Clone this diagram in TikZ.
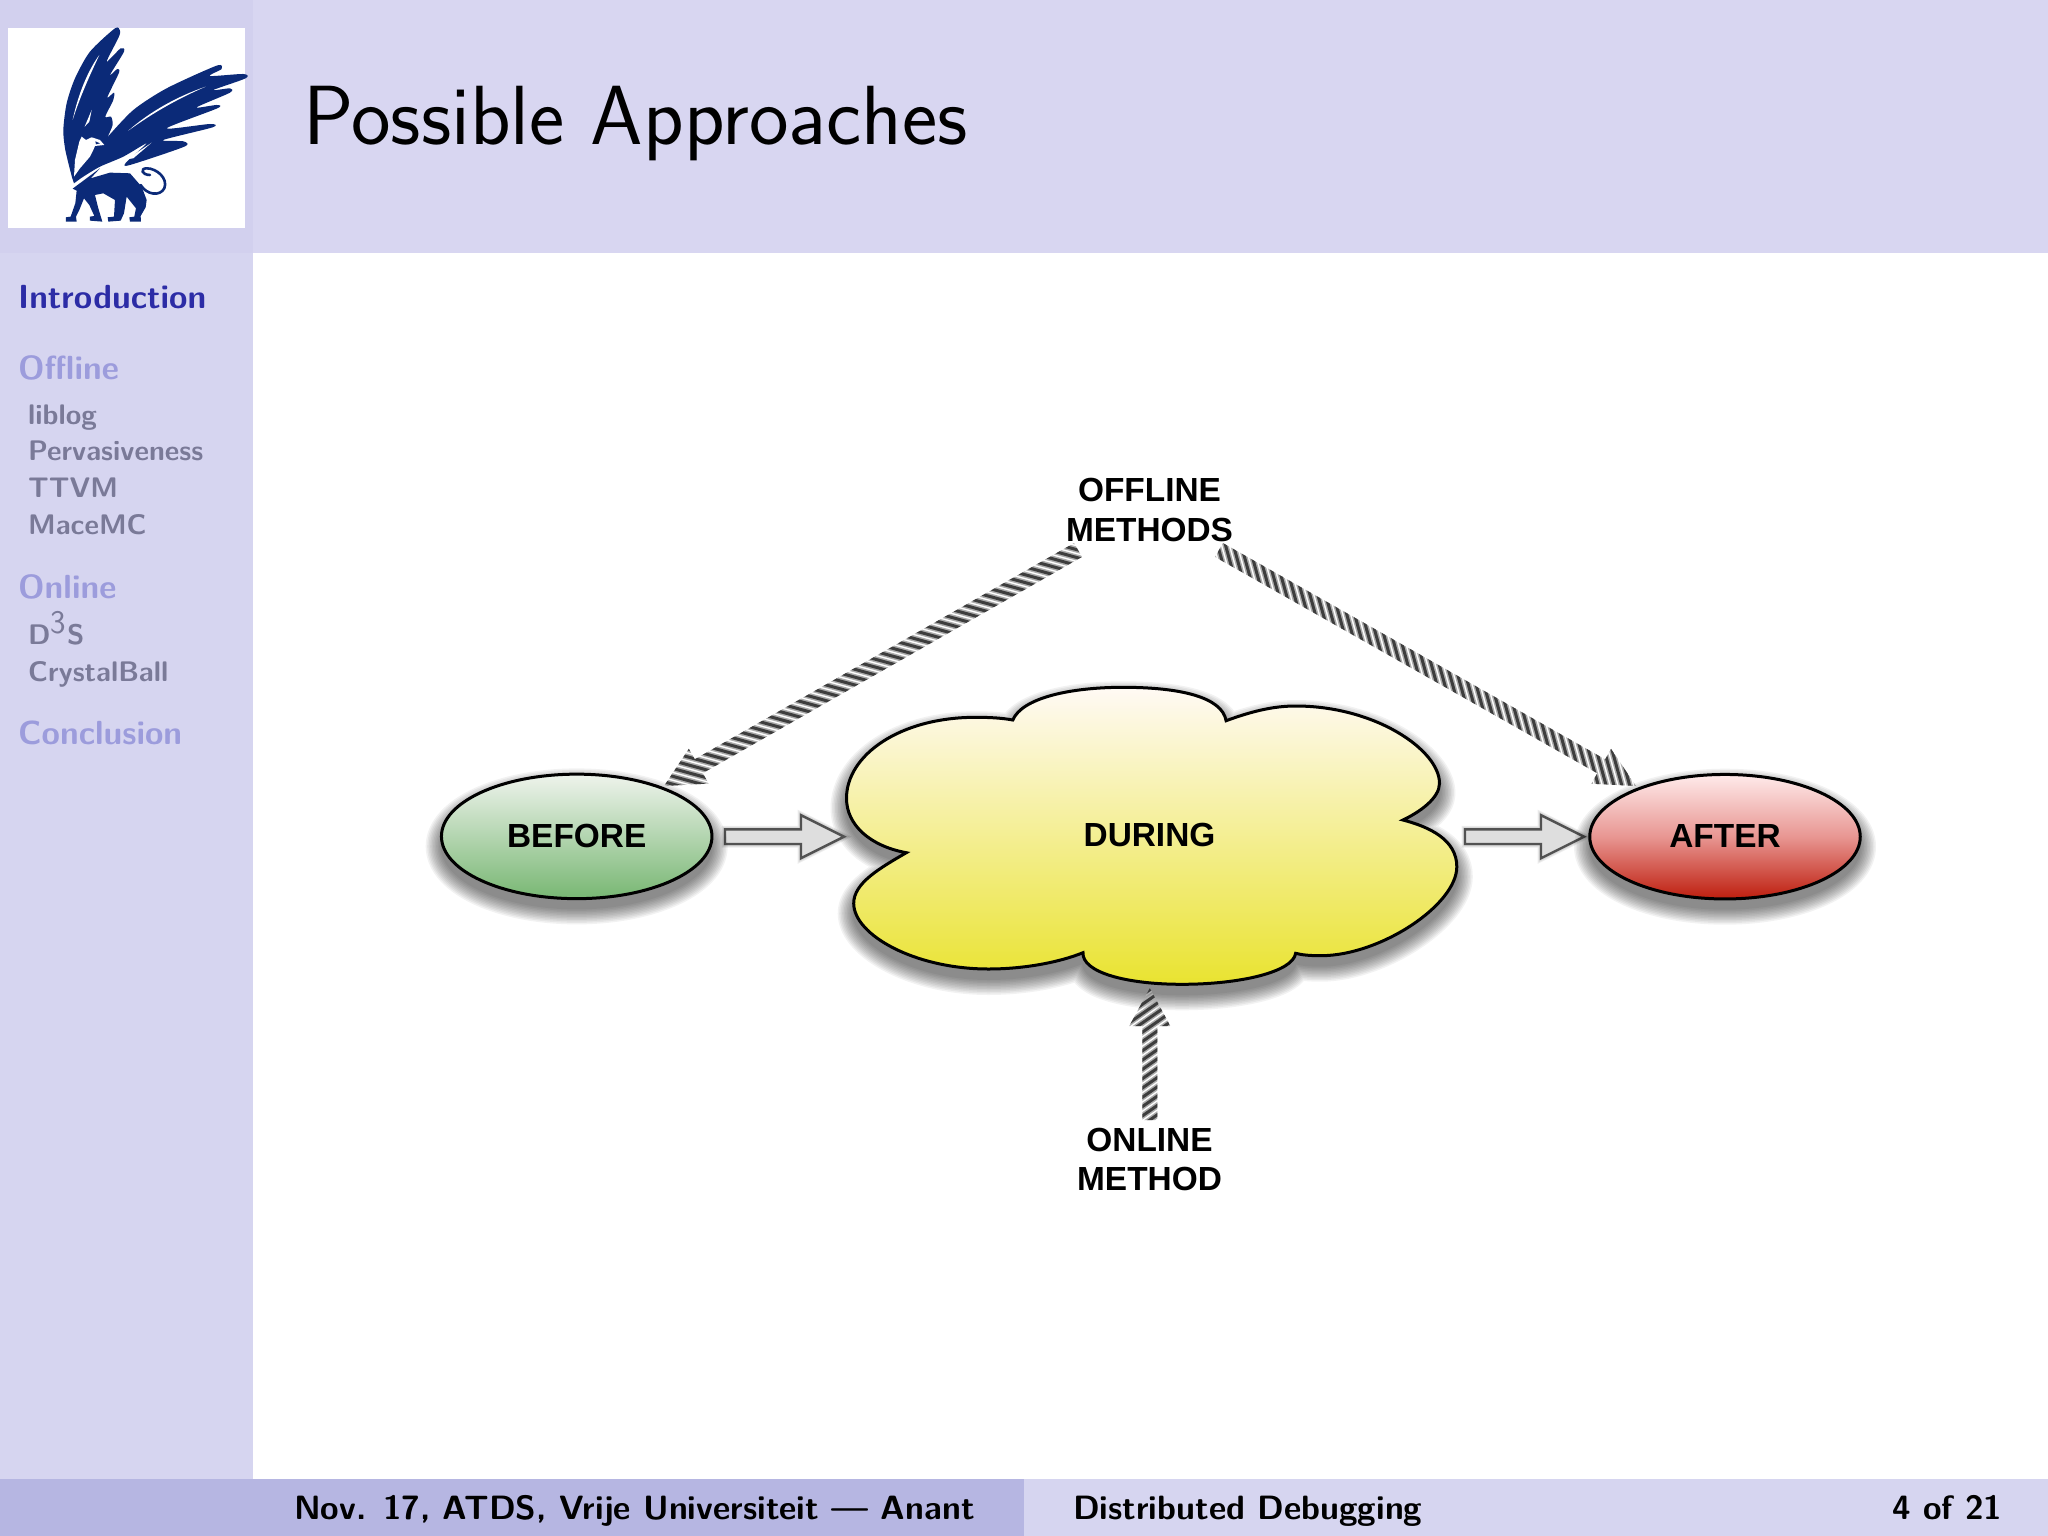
\documentclass[tikz,border=0pt]{standalone}
\usepackage{fontspec}
\newfontfamily\labfont{Liberation Sans}
\usetikzlibrary{calc,shapes.geometric}
\definecolor{panel}{HTML}{D8D6F1}
\definecolor{logobg}{HTML}{D2D0EE}
\definecolor{footdark}{HTML}{B6B6E2}
\definecolor{footlight}{HTML}{D6D5F0}
\definecolor{griffin}{HTML}{0B2A78}
\definecolor{secactive}{HTML}{2C2CA6}
\definecolor{secdim}{HTML}{9C9CDC}
\definecolor{subdim}{HTML}{7A7A98}
\newcommand{\fs}[1]{\fontsize{#1}{#1}\selectfont}
\tikzset{
  sect/.style={anchor=base west,inner sep=0,font=\sffamily\bfseries\fs{33.4},text=secdim},
  subsect/.style={anchor=base west,inner sep=0,font=\sffamily\bfseries\fs{28.3},text=subdim},
  foot/.style={anchor=base west,inner sep=0,font=\sffamily\bfseries\fs{33.7},text=black},
  lab/.style={font=\labfont\bfseries\fs{33.4},inner sep=0,align=center,text=black},
  phase/.style={ellipse,draw=black,line width=3pt,inner sep=0,minimum width=270.5pt,minimum height=124.5pt,font=\labfont\bfseries\fs{33.4},text=black},
}
\newcommand{\softshadow}[3]{% path, dx, dy
  \foreach \w in {32,29,...,2}{
    \begin{scope}[transparency group,opacity=.05]
      \path[xshift=#2pt,yshift=#3pt,draw=black,fill=black,line width=\w pt,line join=round] #1;
    \end{scope}
  }}
% from, to, shaft half width, head half width, head length, stripe angle, axial period
\newcommand{\stripedarrow}[7]{%
  \begin{scope}
    \coordinate (hb) at ($(#2)!#5!(#1)$);
    \clip ($(#1)!#3!90:(#2)$) -- ($(hb)!#3!90:(#2)$) -- ($(hb)!#4!90:(#2)$) -- (#2)
       -- ($(hb)!#4!-90:(#2)$) -- ($(hb)!#3!-90:(#2)$) -- ($(#1)!#3!-90:(#2)$) -- cycle;
    \foreach \i in {-4,...,50}{
      \pgfmathsetmacro\t{\i*#7}
      \coordinate (P) at ($(#1)!\t pt!(#2)$);
      \draw[line width=6pt,black!32] ($(P)!70pt!#6:(#2)$) -- ($(P)!-70pt!#6:(#2)$);
      \draw[line width=3pt,black!76] ($(P)!70pt!#6:(#2)$) -- ($(P)!-70pt!#6:(#2)$);
    }
  \end{scope}}
\newcommand{\hollowarrow}[2]{%
  \coordinate (hb) at ($(#2)!43pt!(#1)$);
  \def\hpath{($(#1)!7.3pt!90:(#2)$) -- ($(hb)!7.3pt!90:(#2)$) -- ($(hb)!21.5pt!90:(#2)$) -- (#2)
     -- ($(hb)!21.5pt!-90:(#2)$) -- ($(hb)!7.3pt!-90:(#2)$) -- ($(#1)!7.3pt!-90:(#2)$) -- cycle}
  \foreach \w in {7,5,3}{\path[xshift=1pt,yshift=-3pt,draw=black,line width=\w pt,opacity=.07,line join=miter] \hpath;}
  \draw[line width=2.4pt,draw=black!68,fill=black!13,line join=miter] \hpath;}
\def\cloudpath{(1012.8,720) .. controls (1022,698) and (1070,687.3) .. (1123,687.3)
  .. controls (1180,687.3) and (1222,697) .. (1226.1,720.7)
  .. controls (1250,712) and (1272,706) .. (1295.6,706)
  .. controls (1375,706) and (1439.5,750) .. (1439.5,783.3)
  .. controls (1439.5,798) and (1420,812) .. (1402.9,820)
  .. controls (1430,827) and (1456.8,840) .. (1456.8,866.7)
  .. controls (1456.8,905) and (1380,955.7) .. (1320.8,955.7)
  .. controls (1310,955.7) and (1302,955) .. (1295.6,953.3)
  .. controls (1293,972) and (1240,984.3) .. (1182,984.3)
  .. controls (1125,984.3) and (1082,972) .. (1083,952.7)
  .. controls (1060,962) and (1025,969) .. (988.4,969)
  .. controls (915,969) and (853.7,935) .. (853.7,903.3)
  .. controls (853.7,883) and (880,868) .. (906.3,852.7)
  .. controls (870,846) and (846.5,825) .. (846.5,798.3)
  .. controls (846.5,755) and (900,717.3) .. (975.7,717.3)
  .. controls (990,717.3) and (1002,718) .. (1012.8,720) -- cycle}
\begin{document}
\begin{tikzpicture}[x=1pt,y=-1pt]
\useasboundingbox (0,0) rectangle (2048,1536);
% slide frame
\fill[white] (0,0) rectangle (2048,1536);
\fill[panel] (0,0) rectangle (2048,253);
\fill[footlight] (0,253) rectangle (253,1479);
\fill[logobg] (0,0) rectangle (253,253);
\fill[footdark] (0,1479) rectangle (1024,1536);
\fill[footlight] (1024,1479) rectangle (2048,1536);
% logo
\fill[white] (8,28) rectangle (245,228);
\begin{scope}[x=.3333pt,y=-.3333pt]
  \fill[griffin] plot[smooth,tension=.45] coordinates {(216,532) (196,450) (190,390) (200,310) (225,235) (270,155) (345,85) (360,92) (356,112) (320,185) (362,145) (372,155) (330,225) (352,207) (357,218) (322,292) (342,278) (340,300) (316,350) (333,350) (338,375) (322,412)}
   -- plot[smooth,tension=.45] coordinates {(322,412) (400,330) (500,265) (650,197) (665,207) (630,228) (730,222) (737,235) (640,270) (690,265) (690,278) (590,322) (650,315) (652,325) (500,385) (630,372) (638,382) (490,420) (550,424) (553,440) (390,495) (378,488) (440,430) (370,470) (300,500) (250,530) (222,550)} -- cycle;
  \fill[griffin] (218,566) -- (300,505) -- (272,535) -- (330,518) -- (390,520) -- (425,560) -- (440,600) -- (437,622) -- (422,648) -- (423,665) -- (390,665) -- (388,652) -- (403,650) -- (408,625) -- (380,590) -- (372,640) -- (362,662) -- (325,665) -- (323,652) -- (342,650) -- (345,600) -- (310,580) -- (285,585) -- (295,625) -- (307,665) -- (270,662) -- (270,650) -- (283,648) -- (268,615) -- (252,595) -- (238,630) -- (228,650) -- (230,665) -- (198,665) -- (198,652) -- (212,650) -- (226,610) -- (230,572) -- cycle;
  \draw[griffin,line width=2.6pt,line cap=round] (422,555) .. controls (440,585) and (480,590) .. (493,565) .. controls (505,535) and (470,505) .. (440,505) .. controls (420,505) and (425,525) .. (450,525);
  % white details
  \fill[white] (218,360) .. controls (235,280) and (265,210) .. (298,165) .. controls (270,225) and (240,290) .. cycle;
  \fill[white] (254,380) -- (275,330) -- (268,365) -- cycle;
  \fill[white] (385,392) .. controls (450,335) and (530,290) .. (617,260) .. controls (530,298) and (460,338) .. cycle;
  \fill[white] (380,478) -- (455,428) -- (400,475) -- cycle;
  \fill[white] (238,425) -- (245,410) -- (258,420) -- (275,412) -- (300,420) -- (313,435) -- (285,438) -- (280,450) -- (270,470) -- (240,505) -- (222,530) -- (225,480) -- cycle;
  \fill[griffin] (286,424) -- (300,430) -- (288,433) -- cycle;
\end{scope}
% title and navigation
\node[anchor=base west,inner sep=0,font=\sffamily\fs{84},text=black] (title) at (303,145) {Possible Approaches};
\node[sect,text=secactive] (s1) at (18,308) {Introduction};
\node[sect] (s2) at (18,379) {Offline};
\node[subsect] (s2a) at (28,424) {liblog};
\node[subsect] (s2b) at (28,460.7) {Pervasiveness};
\node[subsect] (s2c) at (28,497.4) {TTVM};
\node[subsect] (s2d) at (28,534) {MaceMC};
\node[sect] (s3) at (18,598) {Online};
\node[subsect] (s3a) at (28,644) {D\raisebox{11pt}{\mdseries\fs{33}3}\kern1pt S};
\node[subsect] (s3b) at (28,681.4) {CrystalBall};
\node[sect] (s4) at (18,744) {Conclusion};
% footer
\node[foot] (f1) at (294,1519) {Nov. 17, ATDS, Vrije Universiteit --- Anant};
\node[foot] (f2) at (1073,1519) {Distributed Debugging};
\node[foot] (f3) at (1892,1519) {4 of 21};
% labels
\node[lab] (off) at (1149.5,510) {OFFLINE\\[6pt]METHODS};
\node[lab] (onl) at (1149.5,1159.5) {ONLINE\\[6pt]METHOD};
% named connector ends
\coordinate (offL) at (1078,550);
\coordinate (offR) at (1219,550);
\coordinate (beforeTip) at (664,786);
\coordinate (afterTip) at (1636,786);
\coordinate (onlS) at (1149.8,1120);
\coordinate (duringB) at (1149.8,988);
\coordinate (cloudL) at (844,836.7);
\coordinate (cloudR) at (1465,836.7);
\coordinate (beforeR) at (725,836.7);
\coordinate (afterL) at (1584,836.7);
\stripedarrow{offL}{beforeTip}{8pt}{20pt}{40pt}{-45}{10.7}
\stripedarrow{offR}{afterTip}{8pt}{20pt}{40pt}{-45}{10.7}
% cloud and ellipses
\softshadow{\cloudpath}{0}{-10}
\stripedarrow{onlS}{duringB}{7.5pt}{20.5pt}{38pt}{-55}{9.3}
\hollowarrow{beforeR}{cloudL}
\hollowarrow{cloudR}{afterL}
\shade[top color=white!96!orange,bottom color={rgb,255:red,233;green,227;blue,48}] \cloudpath;
\draw[black,line width=3pt,line join=miter] \cloudpath;
\node[font=\labfont\bfseries\fs{33.4},inner sep=0] (during) at (1149.5,835) {DURING};
\softshadow{(576.7,836.4) ellipse [x radius=135,y radius=62]}{0}{-10}
\softshadow{(1725,836.7) ellipse [x radius=135,y radius=62]}{0}{-10}
\node[phase,top color={rgb,255:red,238;green,243;blue,236},bottom color={rgb,255:red,120;green,183;blue,115}] (before) at (576.7,836.4) {\raisebox{1.5pt}{BEFORE}};
\node[phase,top color=white!92!red,bottom color={rgb,255:red,190;green,30;blue,14},middle color={rgb,255:red,232;green,150;blue,146}] (after) at (1725,836.7) {\raisebox{1.5pt}{AFTER}};
\end{tikzpicture}
\end{document}
